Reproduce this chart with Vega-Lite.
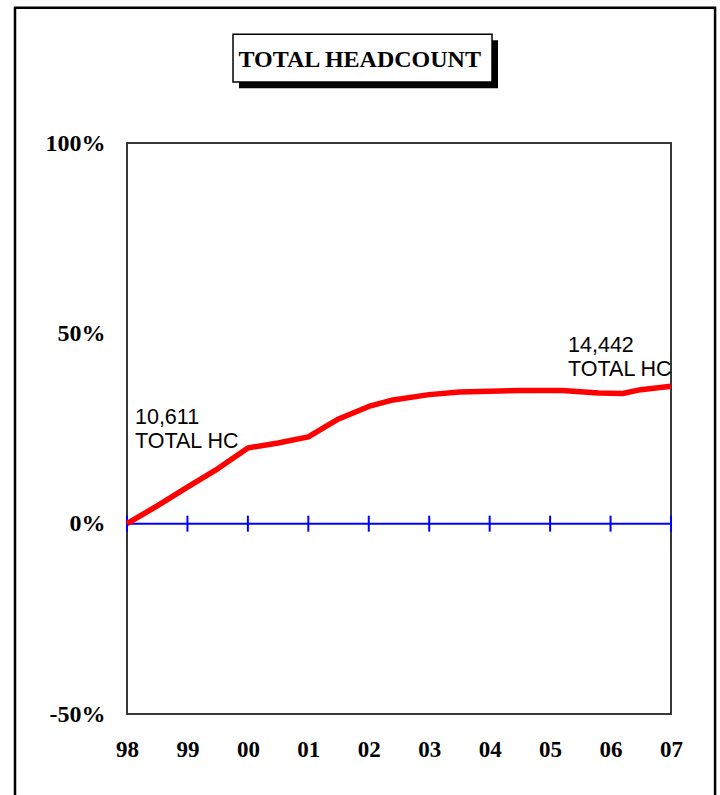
{
  "$schema": "https://vega.github.io/schema/vega-lite/v6.json",
  "autosize": {"type": "none"},
  "padding": {"left": 127, "top": 143, "right": 49, "bottom": 81},
  "width": 544,
  "height": 571,
  "background": "white",
  "config": {
    "view": {"stroke": "#383838", "strokeWidth": 2},
    "axis": {"grid": false, "ticks": false, "domain": false, "labelColor": "black", "labelFont": "Liberation Serif", "labelFontWeight": "bold", "title": null, "labelFlush": false}
  },
  "datasets": {
    "headcount": [
      {"t": 0, "pct": 0},
      {"t": 0.5, "pct": 4.7},
      {"t": 1, "pct": 9.6},
      {"t": 1.5, "pct": 14.4},
      {"t": 2, "pct": 19.9},
      {"t": 2.5, "pct": 21.2},
      {"t": 3, "pct": 22.8},
      {"t": 3.5, "pct": 27.5},
      {"t": 4, "pct": 30.8},
      {"t": 4.4, "pct": 32.5},
      {"t": 5, "pct": 33.9},
      {"t": 5.5, "pct": 34.6},
      {"t": 6.5, "pct": 35.0},
      {"t": 7.2, "pct": 35.0},
      {"t": 7.8, "pct": 34.3},
      {"t": 8.2, "pct": 34.2},
      {"t": 8.5, "pct": 35.2},
      {"t": 9, "pct": 36.1}
    ],
    "years": [
      {"t": 0, "year": "98"}, {"t": 1, "year": "99"}, {"t": 2, "year": "00"}, {"t": 3, "year": "01"}, {"t": 4, "year": "02"},
      {"t": 5, "year": "03"}, {"t": 6, "year": "04"}, {"t": 7, "year": "05"}, {"t": 8, "year": "06"}, {"t": 9, "year": "07"}
    ],
    "one": [{"k": 1}]
  },
  "encoding": {
    "x": {"type": "quantitative", "scale": {"domain": [0, 9], "nice": false, "zero": false},
      "axis": {"values": [0,1,2,3,4,5,6,7,8,9], "labelExpr": "['98','99','00','01','02','03','04','05','06','07'][datum.value]", "labelFontSize": 23, "labelPadding": 24}},
    "y": {"type": "quantitative", "scale": {"domain": [-50, 100], "nice": false, "zero": false},
      "axis": {"values": [-50, 0, 50, 100], "labelExpr": "datum.value + '%'", "labelFontSize": 24, "labelPadding": 22}}
  },
  "layer": [
    {
      "data": {"name": "one"},
      "mark": {"type": "rect", "fill": null, "stroke": "black", "strokeWidth": 2.5, "clip": false},
      "encoding": {"x": {"datum": -1.853}, "x2": {"datum": 9.729}, "y": {"datum": 135.5}, "y2": {"datum": -73}}
    },
    {
      "data": {"name": "one"},
      "mark": {"type": "rect", "fill": "black", "stroke": null},
      "encoding": {"x": {"datum": 1.853}, "x2": {"datum": 6.138}, "y": {"datum": 127.0}, "y2": {"datum": 114.4}}
    },
    {
      "data": {"name": "one"},
      "mark": {"type": "rect", "fill": "white", "stroke": "black", "strokeWidth": 1.5},
      "encoding": {"x": {"datum": 1.754}, "x2": {"datum": 6.039}, "y": {"datum": 128.6}, "y2": {"datum": 116.0}}
    },
    {
      "data": {"name": "one"},
      "mark": {"type": "text", "text": "TOTAL HEADCOUNT", "font": "Liberation Serif", "fontWeight": "bold", "fontSize": 24, "align": "center", "baseline": "alphabetic", "color": "black"},
      "encoding": {"x": {"datum": 3.85}, "y": {"datum": 120.0}}
    },
    {
      "data": {"name": "one"},
      "mark": {"type": "rule", "color": "#0000ff", "strokeWidth": 2},
      "encoding": {"y": {"datum": 0}}
    },
    {
      "data": {"name": "years"},
      "mark": {"type": "tick", "orient": "vertical", "color": "#0000ff", "size": 16, "thickness": 2, "opacity": 1},
      "encoding": {"x": {"field": "t", "type": "quantitative"}, "y": {"datum": 0}}
    },
    {
      "data": {"name": "headcount"},
      "mark": {"type": "line", "color": "#ff0000", "strokeWidth": 5.5, "interpolate": "linear", "strokeJoin": "round", "strokeCap": "butt"},
      "encoding": {"x": {"field": "t", "type": "quantitative"}, "y": {"field": "pct", "type": "quantitative"}}
    },
    {
      "data": {"name": "one"},
      "mark": {"type": "text", "text": ["10,611", "TOTAL HC"], "lineHeight": 24, "font": "Liberation Sans", "fontSize": 21.5, "align": "left", "baseline": "alphabetic", "color": "black"},
      "encoding": {"x": {"datum": 0.132}, "y": {"datum": 26.2}}
    },
    {
      "data": {"name": "one"},
      "mark": {"type": "text", "text": ["14,442", "TOTAL HC"], "lineHeight": 24, "font": "Liberation Sans", "fontSize": 21.5, "align": "left", "baseline": "alphabetic", "color": "black"},
      "encoding": {"x": {"datum": 7.297}, "y": {"datum": 45.1}}
    }
  ]
}
